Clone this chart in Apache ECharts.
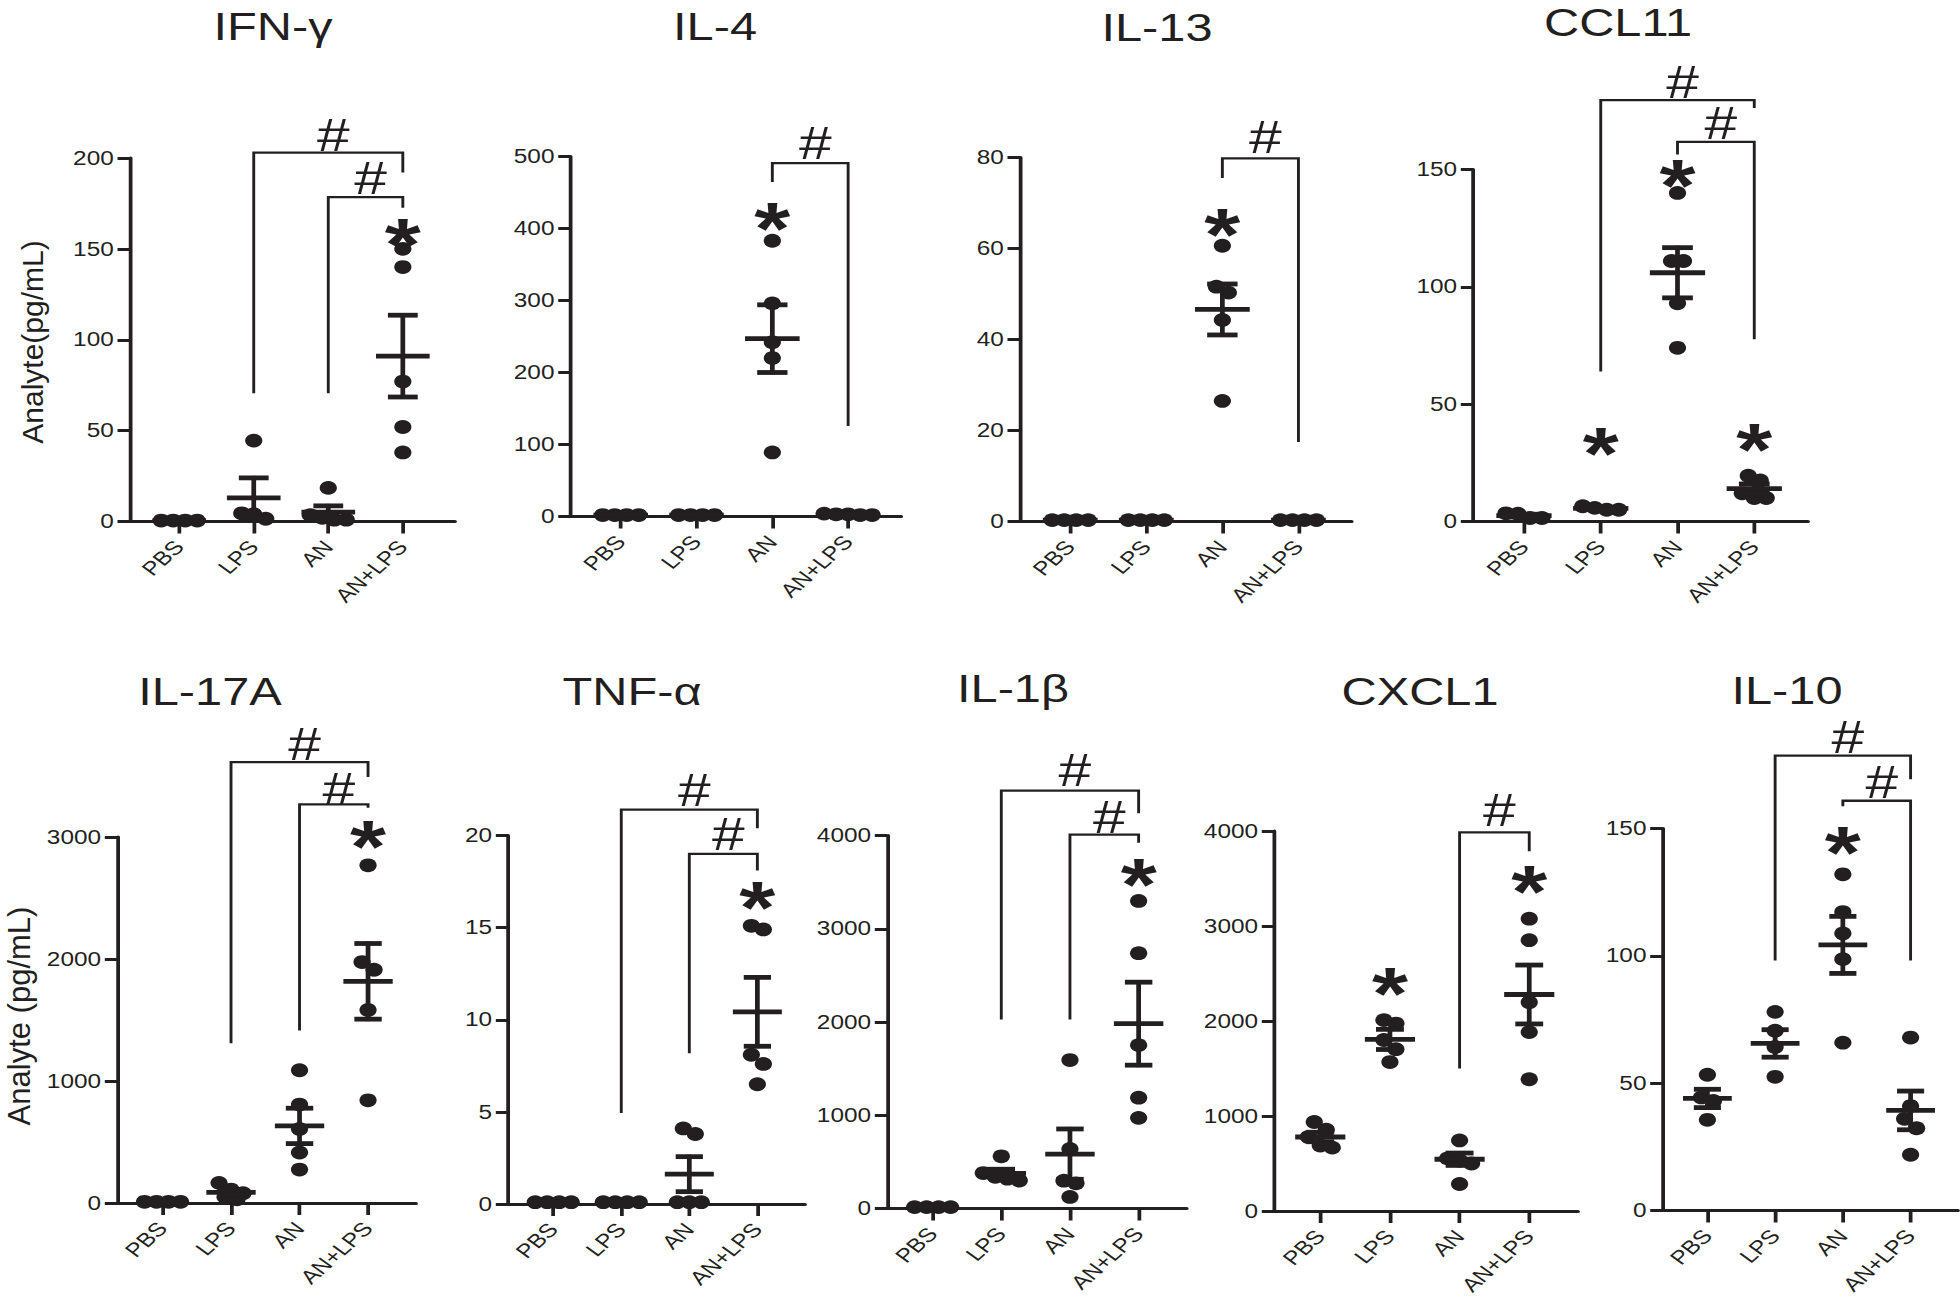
<!DOCTYPE html>
<html>
<head>
<meta charset="utf-8">
<script src="https://cdn.jsdelivr.net/npm/echarts@6/dist/echarts.min.js"></script>
<style>
html,body{margin:0;padding:0;background:#fff;overflow:hidden;}
#chart{width:1568px;height:1312px;transform:scaleX(1.25);transform-origin:0 0;}
</style>
</head>
<body>
<div id="chart"></div>
<script>
// ---------------- data ----------------
const groups = ['PBS', 'LPS', 'AN', 'AN+LPS'];

// IFN-γ
const ifngTicks = [0, 50, 100, 150, 200];
const ifngPoints = [[0.5, 0.5, 0.5, 0.5], [44.5, 4.5, 4, 1.5], [18.5, 3.5, 2, 1, 1], [150, 140, 77, 52, 38]];
const ifngMean = [0.5, 13, 5.2, 91];
const ifngSem = [0, 11, 3.4, 22.5];
const ifngBrackets = [[1, 70.5, 3, 192, 203, 213], [2, 70.5, 3, 172.6, 178.5, 189]];
const ifngStars = [[3, 160.7]];

// IL-4
const il4Ticks = [0, 100, 200, 300, 400, 500];
const il4Points = [[2, 2, 2, 2], [2, 2, 2, 2], [383, 296, 242, 220, 89], [4, 3, 3, 2, 2]];
const il4Mean = [2, 2, 247, 3];
const il4Sem = [0, 0, 47, 0.4];
const il4Brackets = [[2, 464.5, 3, 125.7, 490.7, 519]];
const il4Stars = [[2, 420.8]];

// IL-13
const il13Ticks = [0, 20, 40, 60, 80];
const il13Points = [[0.3, 0.3, 0.3, 0.3], [0.3, 0.3, 0.3, 0.3], [60.6, 51.6, 50.3, 44.3, 26.5], [0.3, 0.3, 0.3, 0.3]];
const il13Mean = [0.3, 0.3, 46.6, 0.3];
const il13Sem = [0, 0, 5.6, 0];
const il13Brackets = [[2, 75.5, 3, 17.5, 79.8, 84.6]];
const il13Stars = [[2, 66.4]];

// CCL11
const ccl11Ticks = [0, 50, 100, 150];
const ccl11Points = [[1.5, 3.5, 1.5, 3.3], [5, 6.5, 5, 5.8], [140, 111, 111, 93, 74], [19.5, 17.5, 12, 10, 10]];
const ccl11Mean = [2.5, 5.6, 106, 14];
const ccl11Sem = [0.6, 0.4, 10.7, 2];
const ccl11Brackets = [[1, 63.9, 3, 176.2, 179.6, 187.5], [2, 156.4, 3, 77.7, 161.8, 169.8]];
const ccl11Stars = [[1, 35.3], [2, 149.7], [3, 37.3]];

// IL-17A
const il17Ticks = [0, 1000, 2000, 3000];
const il17Points = [[10, 10, 10, 10], [165, 110, 80, 50, 30], [1088, 807, 607, 414, 274], [2768, 1975, 1912, 1582, 842]];
const il17Mean = [10, 87, 632, 1817];
const il17Sem = [0, 23, 145, 310];
const il17Brackets = [[1, 1309, 3, 3491, 3614, 3765], [2, 1414, 3, 3239, 3267, 3396]];
const il17Stars = [[3, 3046]];

// TNF-α
const tnfTicks = [0, 5, 10, 15, 20];
const tnfPoints = [[0.1, 0.1, 0.1, 0.1], [0.1, 0.1, 0.1, 0.1], [4.1, 3.8, 0.1, 0.1, 0.1], [15.1, 14.9, 8.1, 7.6, 6.5]];
const tnfMean = [0.1, 0.1, 1.62, 10.43];
const tnfSem = [0, 0, 0.95, 1.87];
const tnfBrackets = [[1, 4.94, 3, 20.4, 21.4, 22.5], [2, 8.18, 3, 18.1, 19.0, 20.1]];
const tnfStars = [[3, 16.9]];

// IL-1β
const il1bTicks = [0, 1000, 2000, 3000, 4000];
const il1bPoints = [[15, 15, 15, 15], [560, 380, 340, 320, 300], [1592, 638, 298, 270, 124], [3298, 2738, 1752, 1188, 972]];
const il1bMean = [15, 376, 583, 1982];
const il1bSem = [0, 45, 270, 445];
const il1bBrackets = [[1, 2028, 3, 4239, 4482, 4711], [2, 2028, 3, 3922, 4009, 4206]];
const il1bStars = [[3, 3633]];

// CXCL1
const cxcl1Ticks = [0, 1000, 2000, 3000, 4000];
const cxcl1Points = [[937, 856, 780, 689, 667], [2009, 1973, 1800, 1703, 1568], [743, 554, 532, 500, 284], [3077, 2851, 2198, 1883, 1387]];
const cxcl1Mean = [779, 1806, 545, 2279];
const cxcl1Sem = [50, 106, 65, 310];
const cxcl1Brackets = [[2, 1500, 3, 3788, 3986, 4225]];
const cxcl1Stars = [[1, 2446], [3, 3527]];

// IL-10
const il10Ticks = [0, 50, 100, 150];
const il10Points = [[53.3, 44.4, 43, 35.6], [78, 70.6, 64.2, 52.5], [132, 117.2, 108.8, 98.7, 65.9], [67.9, 41, 36, 32.3, 21.9]];
const il10Mean = [44, 65.6, 104.3, 39.3];
const il10Sem = [3.6, 5.4, 11.2, 7.6];
const il10Brackets = [[1, 98.2, 3, 169.3, 178.6, 186], [2, 158.7, 3, 98.2, 160.9, 168.5]];
const il10Stars = [[2, 146.6]];

const panels = [
  {name: 'IFN-γ', ticks: ifngTicks, points: ifngPoints, mean: ifngMean, sem: ifngSem, brackets: ifngBrackets, stars: ifngStars},
  {name: 'IL-4', ticks: il4Ticks, points: il4Points, mean: il4Mean, sem: il4Sem, brackets: il4Brackets, stars: il4Stars},
  {name: 'IL-13', ticks: il13Ticks, points: il13Points, mean: il13Mean, sem: il13Sem, brackets: il13Brackets, stars: il13Stars},
  {name: 'CCL11', ticks: ccl11Ticks, points: ccl11Points, mean: ccl11Mean, sem: ccl11Sem, brackets: ccl11Brackets, stars: ccl11Stars},
  {name: 'IL-17A', ticks: il17Ticks, points: il17Points, mean: il17Mean, sem: il17Sem, brackets: il17Brackets, stars: il17Stars},
  {name: 'TNF-α', ticks: tnfTicks, points: tnfPoints, mean: tnfMean, sem: tnfSem, brackets: tnfBrackets, stars: tnfStars},
  {name: 'IL-1β', ticks: il1bTicks, points: il1bPoints, mean: il1bMean, sem: il1bSem, brackets: il1bBrackets, stars: il1bStars},
  {name: 'CXCL1', ticks: cxcl1Ticks, points: cxcl1Points, mean: cxcl1Mean, sem: cxcl1Sem, brackets: cxcl1Brackets, stars: cxcl1Stars},
  {name: 'IL-10', ticks: il10Ticks, points: il10Points, mean: il10Mean, sem: il10Sem, brackets: il10Brackets, stars: il10Stars}
];

const yTitles = [
  {text: 'Analyte(pg/mL)', x: 32, y: 342, size: 30},
  {text: 'Analyte (pg/mL)', x: 19, y: 1016, size: 31}
];

// ---------------- layout (page pixels) ----------------
const S = 1.25; // horizontal stretch of the figure
const layout = [
  {left: 130, right: 455, top: 158, bottom: 521.5, tx: 273, ty: 26},
  {left: 570.7, right: 901.2, top: 156.5, bottom: 516.5, tx: 715, ty: 26},
  {left: 1020, right: 1351.7, top: 157.5, bottom: 521.5, tx: 1157, ty: 27},
  {left: 1473.3, right: 1808, top: 169.5, bottom: 521.5, tx: 1618, ty: 22},
  {left: 117.3, right: 416, top: 837, bottom: 1203, tx: 210, ty: 691},
  {left: 508.3, right: 805, top: 835.5, bottom: 1204, tx: 632, ty: 691},
  {left: 887.3, right: 1186.7, top: 835.5, bottom: 1208.5, tx: 1013, ty: 688},
  {left: 1274.3, right: 1578, top: 831, bottom: 1211, tx: 1420, ty: 691},
  {left: 1662.7, right: 1958, top: 828.5, bottom: 1210.5, tx: 1787, ty: 690}
];

const INK = '#231f20';
const FONT = '"Liberation Sans", Arial, Helvetica, sans-serif';
const X_MIN = -0.66, X_MAX = 3.7;
const MEAN_HALF = 0.36, CAP_HALF = 0.2;
const DOT_R = 6.9, DOT_STEP = 9.6, ROW_GAP = 12;

function makeDotRenderer(points) {
  return function (params, api) {
    const vals = points[params.dataIndex];
    const cat = api.value(0);
    const base = api.coord([cat, 0]);
    const pts = vals.map(v => ({v: v, p: api.coord([cat, v])})).sort((a, b) => b.v - a.v);
    const rows = [];
    pts.forEach(pt => {
      const last = rows[rows.length - 1];
      if (last && Math.abs(pt.p[1] - last[0].p[1]) < ROW_GAP) last.push(pt); else rows.push([pt]);
    });
    const children = [];
    rows.forEach(row => {
      const n = row.length;
      row.forEach((pt, i) => {
        children.push({
          type: 'circle',
          shape: {cx: base[0] + (i - (n - 1) / 2) * DOT_STEP, cy: pt.p[1], r: DOT_R},
          style: {fill: INK}
        });
      });
    });
    return {type: 'group', children: children};
  };
}

function renderErr(params, api) {
  const x = api.value(0), m = api.value(1), s = api.value(2);
  const hs = {stroke: INK, lineWidth: 4.8};
  const vs = {stroke: INK, lineWidth: 3.8};
  const a = api.coord([x - MEAN_HALF, m]), b = api.coord([x + MEAN_HALF, m]);
  const ch = [{type: 'line', shape: {x1: a[0], y1: a[1], x2: b[0], y2: b[1]}, style: hs}];
  if (s > 0) {
    const hi = m + s, lo = Math.max(0, m - s);
    const t = api.coord([x, hi]), bt = api.coord([x, lo]);
    ch.push({type: 'line', shape: {x1: t[0], y1: t[1] - 2, x2: bt[0], y2: bt[1] + 2}, style: vs});
    [hi, lo].forEach(v => {
      const c1 = api.coord([x - CAP_HALF, v]), c2 = api.coord([x + CAP_HALF, v]);
      ch.push({type: 'line', shape: {x1: c1[0], y1: c1[1], x2: c2[0], y2: c2[1]}, style: hs});
    });
  }
  return {type: 'group', children: ch};
}

function renderBracket(params, api) {
  const l = api.value(0), lb = api.value(1), r = api.value(2), rb = api.value(3), top = api.value(4), hy = api.value(5);
  const p1 = api.coord([l, lb]), p2 = api.coord([l, top]), p3 = api.coord([r, top]), p4 = api.coord([r, rb]);
  const hc = api.coord([(l + r) / 2, hy]);
  return {type: 'group', children: [
    {type: 'polyline', shape: {points: [p1, p2, p3, p4]}, style: {stroke: INK, lineWidth: 2.3, fill: 'none'}},
    {type: 'text', x: hc[0] + 4, y: hc[1], style: {text: '#', fill: INK, font: '47px ' + FONT,
      textAlign: 'center', textVerticalAlign: 'middle', align: 'center', verticalAlign: 'middle'}}
  ]};
}

function renderStar(params, api) {
  const c = api.coord([api.value(0), api.value(1)]);
  return {type: 'text', x: c[0], y: c[1] + 15, style: {text: '*', fill: INK, font: 'bold 74px ' + FONT,
    textAlign: 'center', textVerticalAlign: 'middle', align: 'center', verticalAlign: 'middle'}};
}

const option = {animation: false, backgroundColor: '#ffffff', grid: [], xAxis: [], yAxis: [], series: [], graphic: []};

panels.forEach((p, i) => {
  const L = layout[i];
  option.grid.push({left: L.left / S, top: L.top, width: (L.right - L.left) / S, height: L.bottom - L.top});
  option.xAxis.push({
    type: 'value', gridIndex: i, min: X_MIN, max: X_MAX,
    axisLine: {show: true, onZero: false, lineStyle: {color: INK, width: 3}},
    axisTick: {show: true, customValues: [0, 1, 2, 3], length: 12, lineStyle: {color: INK, width: 3}},
    axisLabel: {show: true, customValues: [0, 1, 2, 3], formatter: v => groups[Math.round(v)],
      rotate: 48, fontSize: 19.5, fontFamily: FONT, color: INK, margin: 22},
    splitLine: {show: false}
  });
  option.yAxis.push({
    type: 'value', gridIndex: i, min: p.ticks[0], max: p.ticks[p.ticks.length - 1], interval: p.ticks[1] - p.ticks[0],
    axisLine: {show: true, onZero: false, lineStyle: {color: INK, width: 3}},
    axisTick: {show: true, length: 10, lineStyle: {color: INK, width: 3}},
    axisLabel: {fontSize: 19.5, fontFamily: FONT, color: INK, margin: 13, formatter: v => String(v)},
    splitLine: {show: false}
  });
  option.series.push({
    type: 'custom', name: p.name + ' points', xAxisIndex: i, yAxisIndex: i, clip: false, silent: true, z: 3,
    data: p.points.map((vals, g) => [g, Math.max.apply(null, vals)]),
    renderItem: makeDotRenderer(p.points)
  });
  option.series.push({
    type: 'custom', name: p.name + ' mean±SEM', xAxisIndex: i, yAxisIndex: i, clip: false, silent: true, z: 4,
    dimensions: ['g', 'mean', 'sem'], encode: {x: 'g', y: 'mean'},
    data: p.mean.map((m, g) => [g, m, p.sem[g]]),
    renderItem: renderErr
  });
  option.series.push({
    type: 'custom', name: p.name + ' brackets', xAxisIndex: i, yAxisIndex: i, clip: false, silent: true, z: 5,
    dimensions: ['l', 'lb', 'r', 'rb', 'top', 'hy'], encode: {x: ['l', 'r'], y: ['lb', 'rb', 'top', 'hy']},
    data: p.brackets,
    renderItem: renderBracket
  });
  option.series.push({
    type: 'custom', name: p.name + ' stars', xAxisIndex: i, yAxisIndex: i, clip: false, silent: true, z: 5,
    dimensions: ['g', 'y'], encode: {x: 'g', y: 'y'},
    data: p.stars,
    renderItem: renderStar
  });
  option.graphic.push({
    type: 'text', x: L.tx / S, y: L.ty, silent: true,
    style: {text: p.name, fill: INK, font: '39px ' + FONT, textAlign: 'center', textVerticalAlign: 'middle',
      align: 'center', verticalAlign: 'middle'}
  });
});

yTitles.forEach(t => {
  option.graphic.push({
    type: 'text', x: t.x / S, y: t.y, rotation: Math.PI / 2, scaleY: 1 / S, silent: true,
    style: {text: t.text, fill: INK, font: t.size + 'px ' + FONT, textAlign: 'center', textVerticalAlign: 'middle',
      align: 'center', verticalAlign: 'middle'}
  });
});

const chart = echarts.init(document.getElementById('chart'), null, {renderer: 'svg'});
chart.setOption(option);
</script>
</body>
</html>
